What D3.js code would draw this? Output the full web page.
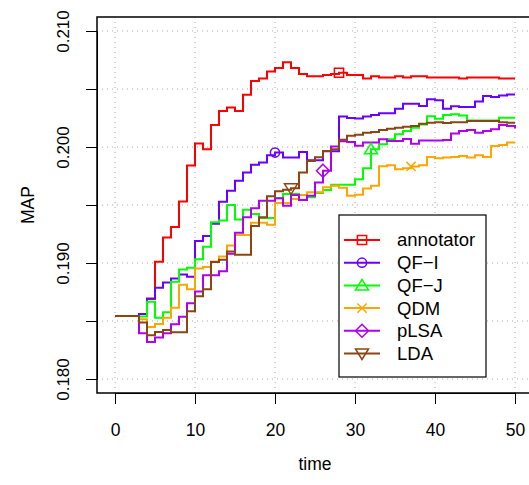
<!DOCTYPE html>
<html>
<head>
<meta charset="utf-8">
<script src="https://cdn.jsdelivr.net/npm/d3@7"></script>
<style>
body { margin: 0; background: #fff; }
text { font-family: "Liberation Sans", Arial, sans-serif; fill: #000; }
</style>
</head>
<body>
<svg class="chart-map" width="529" height="485"></svg>
<script>
// time steps 0..50
var times = d3.range(0, 51);

var annotator = [0.18543, 0.18543, 0.18543, 0.1856, 0.1869, 0.1901, 0.1922, 0.1931, 0.1953, 0.1984,
                 0.2003, 0.1998, 0.2019, 0.2031, 0.2034, 0.2031, 0.2045, 0.2057, 0.2059, 0.2065,
                 0.2068, 0.2073, 0.2068, 0.2063, 0.2061, 0.2061, 0.2062, 0.2063, 0.2064, 0.2062,
                 0.2062, 0.2059, 0.2061, 0.2060, 0.2060, 0.2061, 0.2060, 0.2061, 0.2061, 0.2060,
                 0.2060, 0.2060, 0.2060, 0.2059, 0.2060, 0.2060, 0.2060, 0.2060, 0.2059, 0.2059, 0.2059];

var qfI = [0.18543, 0.18543, 0.18543, 0.1856, 0.18695, 0.18786, 0.18832, 0.18866, 0.1890, 0.18881,
           0.19189, 0.19232, 0.19338, 0.19529, 0.19623, 0.19709, 0.19781, 0.19846, 0.19866, 0.19929,
           0.19952, 0.19909, 0.19909, 0.19957, 0.19886, 0.19886, 0.19963, 0.19963, 0.20263, 0.2025,
           0.20246, 0.20263, 0.20276, 0.20291, 0.20291, 0.20329, 0.20373, 0.20373, 0.20353, 0.20412,
           0.20402, 0.20329, 0.20351, 0.20345, 0.20345, 0.20392, 0.2044, 0.20432, 0.20443, 0.20452, 0.20452];

var qfJ = [0.18543, 0.18543, 0.18543, 0.18538, 0.18665, 0.18528, 0.18575, 0.18838, 0.18943, 0.1896,
           0.19033, 0.1914, 0.19352, 0.19366, 0.1950, 0.19376, 0.1946, 0.19423, 0.19389, 0.19389,
           0.19558, 0.19595, 0.19595, 0.19546, 0.19566, 0.19603, 0.19629, 0.19674, 0.19674, 0.19674,
           0.19723, 0.19817, 0.1998, 0.20023, 0.20066, 0.20109, 0.20137, 0.20166, 0.20195, 0.20266,
           0.20243, 0.20276, 0.20283, 0.20272, 0.20229, 0.20229, 0.20229, 0.20229, 0.20252, 0.20252, 0.20252];

var qdm = [0.18543, 0.18543, 0.18543, 0.18515, 0.18449, 0.18474, 0.18529, 0.18615, 0.18812, 0.18773,
           0.18952, 0.18966, 0.19012, 0.19055, 0.19151, 0.19241, 0.19241, 0.19346, 0.19346, 0.19329,
           0.19517, 0.19517, 0.19552, 0.19586, 0.19609, 0.19609, 0.19652, 0.19666, 0.19649, 0.1958,
           0.19589, 0.19643, 0.19666, 0.19835, 0.19843, 0.19809, 0.19817, 0.19832, 0.19843, 0.19914,
           0.19903, 0.19909, 0.19914, 0.19923, 0.19909, 0.19929, 0.19914, 0.20009, 0.20017, 0.20038, 0.20038];

var plsa = [0.18543, 0.18543, 0.18543, 0.18395, 0.18318, 0.18358, 0.18395, 0.18472, 0.18536, 0.18652,
            0.18755, 0.18894, 0.18894, 0.18929, 0.1908, 0.1926, 0.19395, 0.19472, 0.19537, 0.19537,
            0.19558, 0.19494, 0.19586, 0.19543, 0.1958, 0.19695, 0.19796, 0.20005, 0.20049, 0.20043,
            0.2001, 0.20038, 0.20038, 0.20066, 0.20051, 0.20051, 0.2007, 0.20029, 0.20057, 0.20057,
            0.20057, 0.2006, 0.20117, 0.20137, 0.20146, 0.20123, 0.20137, 0.20152, 0.2019, 0.2018, 0.2016];

var lda = [0.18543, 0.18543, 0.18543, 0.18487, 0.18378, 0.18406, 0.18423, 0.18403, 0.18403, 0.18583,
           0.18714, 0.18773, 0.19009, 0.19029, 0.1910, 0.19072, 0.19072, 0.19318, 0.19395, 0.19575,
           0.19619, 0.19631, 0.19644, 0.19781, 0.1988, 0.19912, 0.19966, 0.1998, 0.20063, 0.20096,
           0.20105, 0.20123, 0.20129, 0.20146, 0.20158, 0.20166, 0.20175, 0.2018, 0.20201, 0.20209,
           0.20214, 0.20206, 0.20214, 0.20214, 0.20225, 0.20225, 0.20225, 0.20225, 0.20214, 0.20209, 0.20209];

var seriesNames = ["annotator", "QF\u2212I", "QF\u2212J", "QDM", "pLSA", "LDA"];
var seriesValues = [annotator, qfI, qfJ, qdm, plsa, lda];
var seriesColors = ["#ff0000", "#6a00ff", "#00ff00", "#ffa500", "#b000f0", "#8b4513"];
var seriesMarkers = ["square", "circle", "triangle", "cross", "diamond", "triangleDown"];
var markerTime = [28, 20, 32, 37, 26, 22];

var xTicks = [0, 10, 20, 30, 40, 50];
var yTicks = [0.180, 0.185, 0.190, 0.195, 0.200, 0.205, 0.210];
var yTickLabels = ["0.180", "", "0.190", "", "0.200", "", "0.210"];

var box = { left: 97, top: 17, right: 600, bottom: 393 };

var scale = {
    x: d3.scaleLinear().domain([0, 50]).range([115, 515]),
    y: d3.scaleLinear().domain([0.18, 0.21]).range([379, 31])
};

var svg = d3.select("svg.chart-map");

function markerPath(type, cx, cy) {
    var r = 4.6;
    if (type == "square")
        return "M" + (cx - r) + "," + (cy - r) + "h" + (2 * r) + "v" + (2 * r) + "h" + (-2 * r) + "Z";
    if (type == "circle")
        return "M" + (cx + r) + "," + cy + "A" + r + "," + r + " 0 1,1 " + (cx - r) + "," + cy
             + "A" + r + "," + r + " 0 1,1 " + (cx + r) + "," + cy;
    if (type == "triangle")
        return "M" + cx + "," + (cy - 6) + "L" + (cx + 6.5) + "," + (cy + 4.5) + "L" + (cx - 6.5) + "," + (cy + 4.5) + "Z";
    if (type == "triangleDown")
        return "M" + cx + "," + (cy + 6) + "L" + (cx + 6.5) + "," + (cy - 4.5) + "L" + (cx - 6.5) + "," + (cy - 4.5) + "Z";
    if (type == "diamond")
        return "M" + cx + "," + (cy - 6.5) + "L" + (cx + 6.5) + "," + cy + "L" + cx + "," + (cy + 6.5) + "L" + (cx - 6.5) + "," + cy + "Z";
    // cross
    return "M" + (cx - r) + "," + (cy - r) + "L" + (cx + r) + "," + (cy + r)
         + "M" + (cx - r) + "," + (cy + r) + "L" + (cx + r) + "," + (cy - r);
}

function drawGrid() {
    var g = svg.append("g").attr("class", "grid");
    g.selectAll("line.gx")
     .data(xTicks)
     .enter()
     .append("line")
     .attr("x1", function (d) { return scale.x(d); })
     .attr("x2", function (d) { return scale.x(d); })
     .attr("y1", box.top)
     .attr("y2", box.bottom)
     .attr("stroke", "#aaa")
     .attr("stroke-dasharray", "1,4");
    g.selectAll("line.gy")
     .data(yTicks)
     .enter()
     .append("line")
     .attr("x1", box.left)
     .attr("x2", box.right)
     .attr("y1", function (d) { return scale.y(d); })
     .attr("y2", function (d) { return scale.y(d); })
     .attr("stroke", "#aaa")
     .attr("stroke-dasharray", "1,4");
}

function drawAxes() {
    var xAxis = d3.axisBottom(scale.x)
                  .tickValues(xTicks)
                  .tickSize(11)
                  .tickSizeOuter(0)
                  .tickPadding(20);
    var gx = svg.append("g")
                .attr("transform", "translate(0," + box.bottom + ")")
                .call(xAxis);
    gx.selectAll("text").attr("font-size", "17.5px").attr("font-family", "Liberation Sans, Arial, sans-serif");
    gx.selectAll("line, path").attr("stroke", "#000").attr("stroke-width", 1);

    var yAxis = d3.axisLeft(scale.y)
                  .tickValues(yTicks)
                  .tickSize(11)
                  .tickSizeOuter(0)
                  .tickFormat(function (d, i) { return yTickLabels[i]; });
    var gy = svg.append("g")
                .attr("transform", "translate(" + box.left + ",0)")
                .call(yAxis);
    gy.selectAll("text")
      .attr("transform", "rotate(-90)")
      .attr("x", 0)
      .attr("y", -34)
      .attr("dy", "0.35em")
      .attr("text-anchor", "middle")
      .attr("font-size", "17px")
      .attr("font-family", "Liberation Sans, Arial, sans-serif");
    gy.selectAll("line, path").attr("stroke", "#000").attr("stroke-width", 1);

    svg.append("text")
       .attr("x", 315)
       .attr("y", 470)
       .attr("text-anchor", "middle")
       .attr("font-size", "17.5px")
       .text("time");

    svg.append("text")
       .attr("transform", "translate(34,205) rotate(-90)")
       .attr("text-anchor", "middle")
       .attr("font-size", "17.5px")
       .text("MAP");
}

function drawLines() {
    var line = d3.line()
                 .curve(d3.curveStepAfter)
                 .x(function (d, i) { return scale.x(times[i]); })
                 .y(function (d) { return scale.y(d); });

    svg.append("g")
       .selectAll("path.series")
       .data(seriesValues)
       .enter()
       .append("path")
       .attr("class", "series")
       .attr("d", line)
       .attr("fill", "none")
       .attr("stroke", function (d, i) { return seriesColors[i]; })
       .attr("stroke-width", 2);

    svg.append("g")
       .selectAll("path.marker")
       .data(seriesValues)
       .enter()
       .append("path")
       .attr("class", "marker")
       .attr("d", function (d, i) {
           var t = markerTime[i];
           return markerPath(seriesMarkers[i], scale.x(t), scale.y(d[t]));
       })
       .attr("fill", "none")
       .attr("stroke", function (d, i) { return seriesColors[i]; })
       .attr("stroke-width", 1.5);
}

function drawBox() {
    svg.append("rect")
       .attr("x", box.left)
       .attr("y", box.top)
       .attr("width", box.right - box.left)
       .attr("height", box.bottom - box.top)
       .attr("fill", "none")
       .attr("stroke", "#000")
       .attr("stroke-width", 1.5);
}

function drawLegend() {
    var lg = svg.append("g").attr("class", "legend");
    lg.append("rect")
      .attr("x", 339)
      .attr("y", 215)
      .attr("width", 147)
      .attr("height", 162)
      .attr("fill", "#fff")
      .attr("stroke", "#000")
      .attr("stroke-width", 1.2);

    var row = lg.selectAll("g.row")
                .data(seriesNames)
                .enter()
                .append("g")
                .attr("class", "row")
                .attr("transform", function (d, i) { return "translate(0," + (240 + i * 22.7) + ")"; });

    row.append("line")
       .attr("x1", 344)
       .attr("x2", 380)
       .attr("stroke", function (d, i) { return seriesColors[i]; })
       .attr("stroke-width", 2);

    row.append("path")
       .attr("d", function (d, i) { return markerPath(seriesMarkers[i], 362, 0); })
       .attr("fill", "none")
       .attr("stroke", function (d, i) { return seriesColors[i]; })
       .attr("stroke-width", 1.5);

    row.append("text")
       .attr("x", 397)
       .attr("dy", "0.35em")
       .attr("font-size", "18.5px")
       .text(function (d) { return d; });
}

drawGrid();
drawLines();
drawBox();
drawAxes();
drawLegend();
</script>
</body>
</html>
